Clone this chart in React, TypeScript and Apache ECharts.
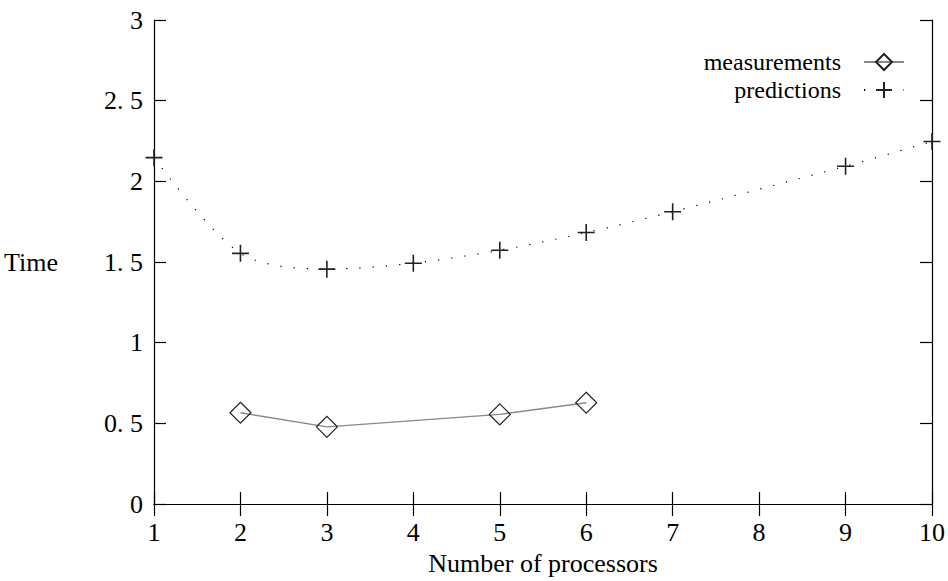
import React, { useEffect, useRef } from "react";
import * as echarts from "echarts";

const predictionProcessors = [1, 2, 3, 4, 5, 6, 7, 9, 10];
const predictionTimes = [2.147, 1.554, 1.456, 1.493, 1.573, 1.683, 1.812, 2.094, 2.247];
const measuredProcessors = [2, 3, 5, 6];
const measuredTimes = [0.566, 0.479, 0.556, 0.628];

const FONT = '"Liberation Serif", "Times New Roman", serif';

export default function App() {
  const ref = useRef<HTMLDivElement>(null);
  useEffect(() => {
    if (!ref.current) return;
    const chart = echarts.init(ref.current, null, { renderer: "svg" });
    const axisLine = { show: true, lineStyle: { color: "#000", width: 1.2 } };
    const axisTick = { show: true, inside: true, length: 12, lineStyle: { color: "#000", width: 1.2 } };
    chart.setOption({
      animation: false,
      backgroundColor: "#fff",
      grid: { left: 154, top: 20, right: 15, bottom: 72, containLabel: false },
      legend: {
        orient: "vertical",
        right: 43,
        top: 49,
        padding: 0,
        align: "right",
        itemWidth: 40,
        itemHeight: 20,
        itemGap: 2,
        textStyle: { fontSize: 24, lineHeight: 26, fontFamily: FONT, color: "#000", padding: [0, 18, 0, 0] },
        data: ["measurements", "predictions"],
      },
      xAxis: [
        {
          type: "value",
          min: 1,
          max: 10,
          interval: 1,
          position: "bottom",
          axisLine,
          axisTick,
          splitLine: { show: false },
          axisLabel: { fontSize: 26, fontFamily: FONT, color: "#000", margin: 15 },
          name: "Number of processors",
          nameLocation: "middle",
          nameGap: 37,
          nameTextStyle: { fontSize: 26, fontFamily: FONT, color: "#000" },
        },
        {
          type: "value",
          min: 1,
          max: 10,
          interval: 1,
          position: "top",
          axisLine,
          axisTick,
          splitLine: { show: false },
          axisLabel: { show: false },
        },
      ],
      yAxis: [
        {
          type: "value",
          min: 0,
          max: 3,
          interval: 0.5,
          position: "left",
          axisLine,
          axisTick,
          splitLine: { show: false },
          axisLabel: {
            fontSize: 26,
            fontFamily: FONT,
            color: "#000",
            margin: 11,
            formatter: (v: number) => String(v).replace(".", ". "),
          },
          name: "Time",
          nameLocation: "middle",
          nameRotate: 0,
          nameGap: 96,
          nameTextStyle: { fontSize: 26, fontFamily: FONT, color: "#000" },
        },
        {
          type: "value",
          min: 0,
          max: 3,
          interval: 0.5,
          position: "right",
          axisLine,
          axisTick,
          splitLine: { show: false },
          axisLabel: { show: false },
        },
      ],
      series: [
        {
          name: "measurements",
          type: "line",
          xAxisIndex: 0,
          yAxisIndex: 0,
          data: measuredProcessors.map((p, i) => [p, measuredTimes[i]]),
          symbol: "diamond",
          symbolSize: 21,
          itemStyle: { color: "rgba(255,255,255,0)", borderColor: "#222", borderWidth: 1.2 },
          lineStyle: { color: "#888", width: 1.3 },
        },
        {
          name: "predictions",
          type: "line",
          xAxisIndex: 0,
          yAxisIndex: 0,
          data: predictionProcessors.map((p, i) => [p, predictionTimes[i]]),
          smooth: 0.3,
          symbol: "path://M0,8H16M8,0V16",
          symbolSize: 17,
          itemStyle: { color: "rgba(0,0,0,0)", borderColor: "#222", borderWidth: 1.6 },
          lineStyle: { color: "#000", width: 1.2, type: [1.2, 12] },
        },
      ],
    });
    return () => chart.dispose();
  }, []);
  return <div ref={ref} style={{ position: "fixed", left: 0, top: 0, width: 948, height: 581 }} />;
}
